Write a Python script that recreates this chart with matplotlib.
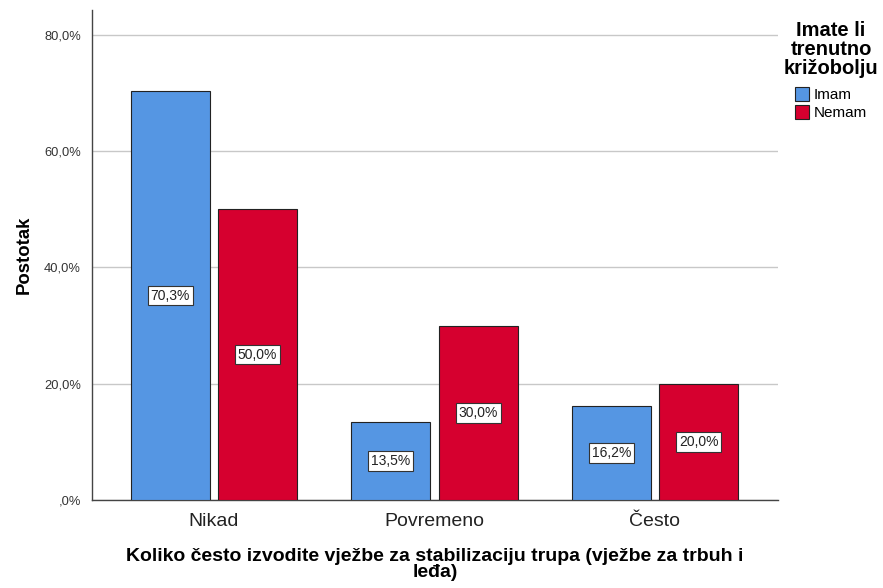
import matplotlib
matplotlib.use("Agg")
import matplotlib.pyplot as plt
import numpy as np
from matplotlib.patches import Patch

categories = ["Nikad", "Povremeno", "Često"]
series_names = ["Imam", "Nemam"]
imam = [70.3, 13.5, 16.2]
nemam = [50.0, 30.0, 20.0]
yticks = [0, 20, 40, 60, 80]
ytick_labels = [",0%", "20,0%", "40,0%", "60,0%", "80,0%"]
colors = ["#5596E3", "#D6002F"]

plt.rcParams['font.family'] = ['Liberation Sans', 'DejaVu Sans']

fig = plt.figure(figsize=(8.83, 5.88), dpi=100)
ax = fig.add_axes([92/883, 1-500/588, (778-92)/883, (500-10)/588])

x = np.arange(len(categories))
w = 0.358
off = 0.198
for vals, sign, col in [(imam, -1, colors[0]), (nemam, 1, colors[1])]:
    bars = ax.bar(x + sign*off, vals, width=w, color=col, edgecolor="#222222", linewidth=0.8, zorder=3)
    for b, v in zip(bars, vals):
        ax.text(b.get_x()+b.get_width()/2, v/2, f"{v:.1f}%".replace(".", ","),
                ha="center", va="center", fontsize=10, color="#222222", zorder=4,
                bbox=dict(boxstyle="square,pad=0.2", facecolor="white", edgecolor="#333333", linewidth=0.8))

ax.set_xlim(-0.553, 2.558)
ax.set_ylim(0, 84.3)
ax.set_yticks(yticks)
ax.set_yticklabels(ytick_labels, fontsize=9.3, color="#333333")
ax.set_xticks(x)
ax.set_xticklabels(categories, fontsize=14, color="#222222")
ax.tick_params(axis="x", length=0, pad=9)
ax.tick_params(axis="y", length=0, pad=8)
ax.grid(axis="y", color="#c8c8c8", linewidth=1, zorder=0)
for s in ["top", "right"]:
    ax.spines[s].set_visible(False)
for s in ["left", "bottom"]:
    ax.spines[s].set_color("#444444")
    ax.spines[s].set_linewidth(1)

ax.set_ylabel("Postotak", fontsize=13.4, fontweight="bold", labelpad=8)
ax.set_xlabel("Koliko često izvodite vježbe za stabilizaciju trupa (vježbe za trbuh i\nleđa)",
              fontsize=14, fontweight="bold", labelpad=13, linespacing=0.95)

handles = [Patch(facecolor=c, edgecolor="#222222", linewidth=0.8) for c in colors]
leg = fig.legend(handles, series_names, title="Imate li\ntrenutno\nkrižobolju",
                 loc="upper center", bbox_to_anchor=(831/883, 1-7/588), frameon=False,
                 fontsize=11, handlelength=0.95, handleheight=0.95, handletextpad=0.3,
                 labelspacing=0.2, title_fontproperties={"weight": "bold", "size": 14.5})
leg.get_title().set_multialignment("center")
leg.get_title().set_linespacing(1.0)
leg._legend_box.sep = 7

fig.savefig("out.png", dpi=100)
